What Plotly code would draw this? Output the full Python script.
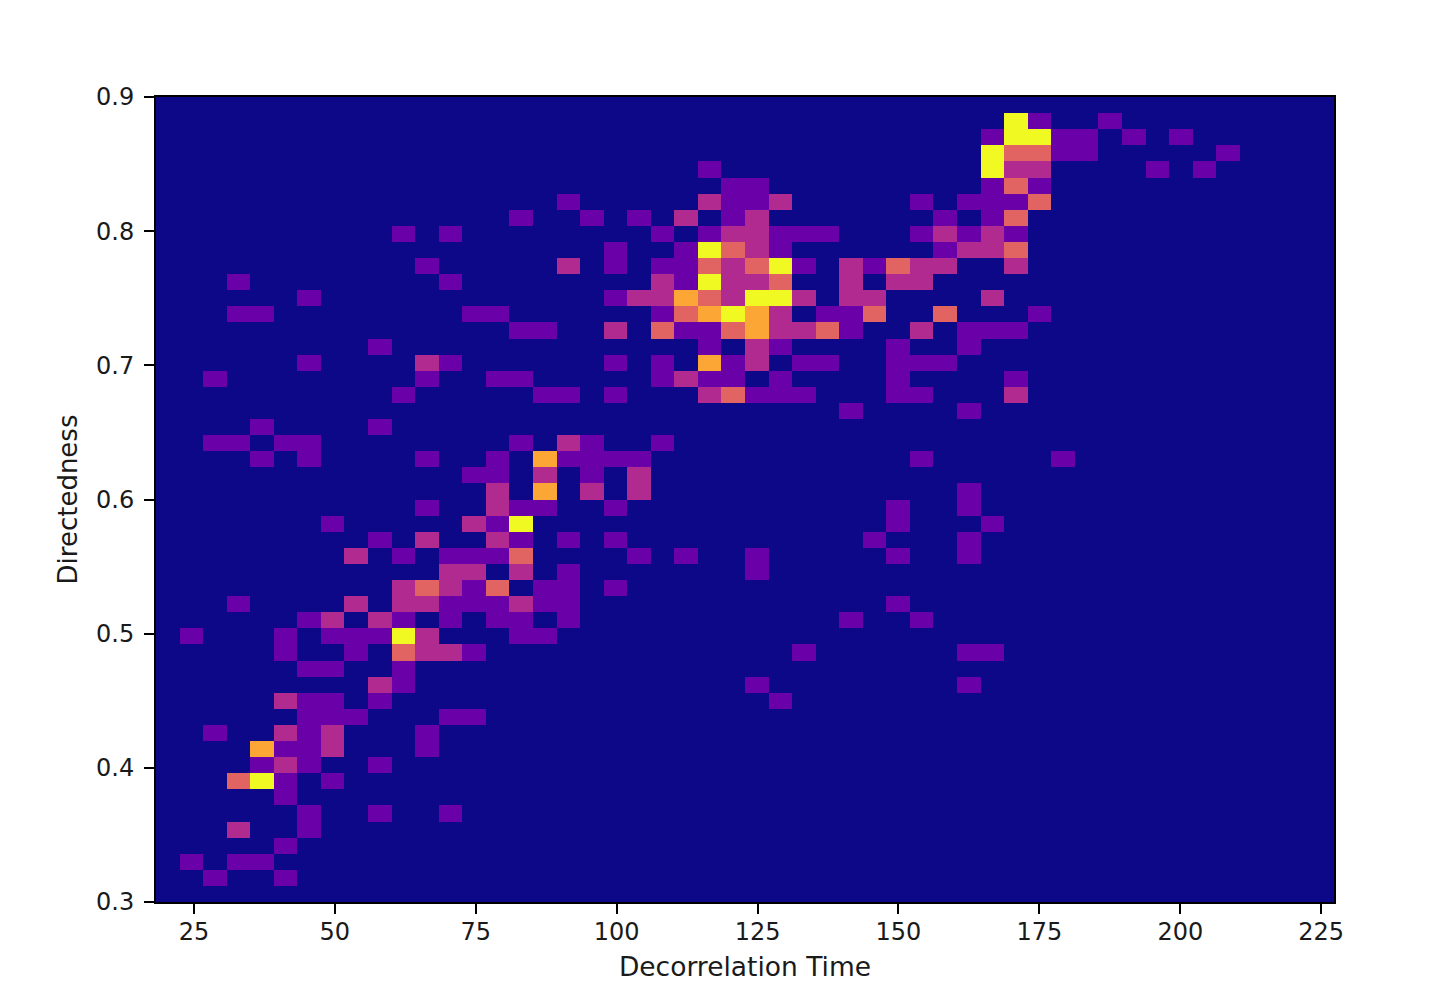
import plotly.graph_objects as go

# Histogram bins
n_bins = 50
x_start = 18.27
x_step = 4.18
y_start = 0.3
y_step = 0.012

# Counts per bin, by row from the top, {column: count}
row_counts = {
    1: {36: 5, 37: 1, 40: 1},
    2: {35: 1, 36: 5, 37: 5, 38: 1, 39: 1, 41: 1, 43: 1},
    3: {35: 5, 36: 3, 37: 3, 38: 1, 39: 1, 45: 1},
    4: {23: 1, 35: 5, 36: 2, 37: 2, 42: 1, 44: 1},
    5: {24: 1, 25: 1, 35: 1, 36: 3, 37: 1},
    6: {17: 1, 23: 2, 24: 1, 25: 1, 26: 2, 32: 1, 34: 1, 35: 1, 36: 1, 37: 3},
    7: {15: 1, 18: 1, 20: 1, 22: 2, 24: 1, 25: 2, 33: 1, 35: 1, 36: 3},
    8: {10: 1, 12: 1, 21: 1, 23: 1, 24: 2, 25: 2, 26: 1, 27: 1, 28: 1, 32: 1, 33: 2, 34: 1, 35: 2, 36: 1},
    9: {19: 1, 22: 1, 23: 5, 24: 3, 25: 2, 26: 1, 33: 1, 34: 2, 35: 2, 36: 3},
    10: {11: 1, 17: 2, 19: 1, 21: 1, 22: 1, 23: 3, 24: 2, 25: 3, 26: 5, 27: 1, 29: 2, 30: 1, 31: 3, 32: 2, 33: 2, 36: 2},
    11: {3: 1, 12: 1, 21: 2, 22: 1, 23: 5, 24: 2, 25: 2, 26: 3, 29: 2, 31: 2, 32: 2},
    12: {6: 1, 19: 1, 20: 2, 21: 2, 22: 4, 23: 3, 24: 2, 25: 5, 26: 5, 27: 2, 29: 2, 30: 2, 35: 2},
    13: {3: 1, 4: 1, 13: 1, 14: 1, 21: 1, 22: 3, 23: 4, 24: 5, 25: 4, 26: 2, 28: 1, 29: 1, 30: 3, 33: 3, 37: 1},
    14: {15: 1, 16: 1, 19: 2, 21: 3, 22: 1, 23: 1, 24: 3, 25: 4, 26: 2, 27: 2, 28: 3, 29: 1, 32: 2, 34: 1, 35: 1, 36: 1},
    15: {9: 1, 23: 1, 25: 2, 26: 1, 31: 1, 34: 1},
    16: {6: 1, 11: 2, 12: 1, 19: 1, 21: 1, 23: 4, 24: 1, 25: 2, 27: 1, 28: 1, 31: 1, 32: 1, 33: 1},
    17: {2: 1, 11: 1, 14: 1, 15: 1, 21: 1, 22: 2, 23: 1, 24: 1, 26: 1, 31: 1, 36: 1},
    18: {10: 1, 16: 1, 17: 1, 19: 1, 23: 2, 24: 3, 25: 1, 26: 1, 27: 1, 31: 1, 32: 1, 36: 2},
    19: {29: 1, 34: 1},
    20: {4: 1, 9: 1},
    21: {2: 1, 3: 1, 5: 1, 6: 1, 15: 1, 17: 2, 18: 1, 21: 1},
    22: {4: 1, 6: 1, 11: 1, 14: 1, 16: 4, 17: 1, 18: 1, 19: 1, 20: 1, 32: 1, 38: 1},
    23: {13: 1, 14: 1, 16: 2, 18: 1, 20: 2},
    24: {14: 2, 16: 4, 18: 2, 20: 2, 34: 1},
    25: {11: 1, 14: 2, 15: 1, 16: 1, 19: 1, 31: 1, 34: 1},
    26: {7: 1, 13: 2, 14: 1, 15: 5, 31: 1, 35: 1},
    27: {9: 1, 11: 2, 14: 2, 15: 1, 17: 1, 19: 1, 30: 1, 34: 1},
    28: {8: 2, 10: 1, 12: 1, 13: 1, 14: 1, 15: 3, 20: 1, 22: 1, 25: 1, 31: 1, 34: 1},
    29: {12: 2, 13: 2, 15: 2, 17: 1, 25: 1},
    30: {10: 2, 11: 3, 12: 2, 13: 1, 14: 3, 16: 1, 17: 1, 19: 1},
    31: {3: 1, 8: 2, 10: 2, 11: 2, 12: 1, 13: 1, 14: 1, 15: 2, 16: 1, 17: 1, 31: 1},
    32: {6: 1, 7: 2, 9: 2, 10: 1, 12: 1, 14: 1, 15: 1, 17: 1, 29: 1, 32: 1},
    33: {1: 1, 5: 1, 7: 1, 8: 1, 9: 1, 10: 5, 11: 2, 15: 1, 16: 1},
    34: {5: 1, 8: 1, 10: 3, 11: 2, 12: 2, 13: 1, 27: 1, 34: 1, 35: 1},
    35: {6: 1, 7: 1, 10: 1},
    36: {9: 2, 10: 1, 25: 1, 34: 1},
    37: {5: 2, 6: 1, 7: 1, 9: 1, 26: 1},
    38: {6: 1, 7: 1, 8: 1, 12: 1, 13: 1},
    39: {2: 1, 5: 2, 6: 1, 7: 2, 11: 1},
    40: {4: 4, 5: 1, 6: 1, 7: 2, 11: 1},
    41: {4: 1, 5: 2, 6: 1, 9: 1},
    42: {3: 3, 4: 5, 5: 1, 7: 1},
    43: {5: 1},
    44: {6: 1, 9: 1, 12: 1},
    45: {3: 2, 6: 1},
    46: {5: 1},
    47: {1: 1, 3: 1, 4: 1},
    48: {2: 1, 5: 1},
}

x_ticks = [25, 50, 75, 100, 125, 150, 175, 200, 225]
y_ticks = [0.3, 0.4, 0.5, 0.6, 0.7, 0.8, 0.9]
x_title = "Decorrelation Time"
y_title = "Directedness"

z = [[0] * n_bins for _ in range(n_bins)]
for row, cols in row_counts.items():
    for col, count in cols.items():
        z[n_bins - 1 - row][col] = count

colorscale = [
    [0.0, "#0d0887"], [0.2, "#6a00a8"], [0.4, "#b12a90"],
    [0.6, "#e16462"], [0.8, "#fca636"], [1.0, "#f0f921"],
]

fig = go.Figure(go.Heatmap(
    z=z,
    x0=x_start + x_step / 2, dx=x_step,
    y0=y_start + y_step / 2, dy=y_step,
    zmin=0, zmax=5, colorscale=colorscale, showscale=False,
))

axis_style = dict(
    showgrid=False, zeroline=False, showline=True, mirror=True,
    linecolor="black", linewidth=2, ticks="outside", ticklen=10,
    tickwidth=2, tickcolor="black", tickfont=dict(size=24),
)
fig.update_xaxes(
    title=dict(text=x_title, standoff=13, font=dict(size=26.5)), tickvals=x_ticks,
    ticklabelstandoff=-3,
    range=[x_start, x_start + n_bins * x_step], **axis_style,
)
fig.update_yaxes(
    title=dict(text=y_title, standoff=11, font=dict(size=26)), tickvals=y_ticks, tickformat=".1f",
    ticklabelstandoff=5,
    range=[y_start, y_start + n_bins * y_step], **axis_style,
)
fig.update_layout(
    width=1435, height=1007,
    margin=dict(l=148, r=109, t=89, b=113),
    paper_bgcolor="white", plot_bgcolor="white",
    font=dict(family="DejaVu Sans", size=22, color="#1a1a1a"),
)
fig.write_html("out.html")
